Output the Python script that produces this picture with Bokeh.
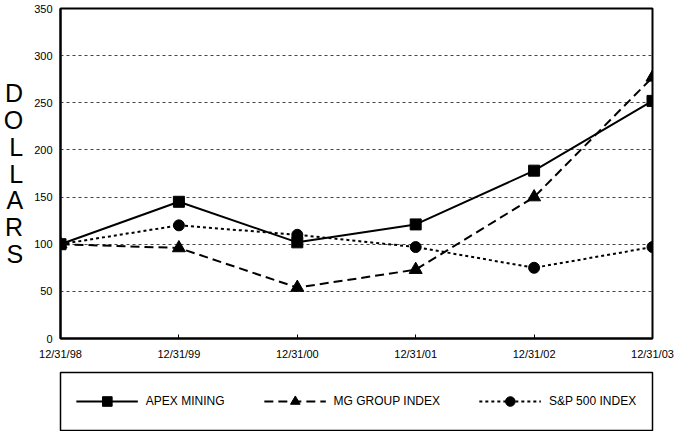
from bokeh.plotting import figure
from bokeh.layouts import column
from bokeh.models import Range1d, FixedTicker, Legend, LegendItem
from bokeh.embed import file_html
from bokeh.resources import INLINE

dates = ["12/31/98", "12/31/99", "12/31/00", "12/31/01", "12/31/02", "12/31/03"]
apex_mining = [100, 145, 102, 121, 178, 252]
mg_group_index = [100, 96, 54, 73, 150, 277]
sp500_index = [100, 120, 110, 97, 75, 97]
y_ticks = [0, 50, 100, 150, 200, 250, 300, 350]

xs = list(range(len(dates)))
FONT = "Liberation Sans"

STYLES = {
    "APEX MINING": dict(dash="solid", marker="square", size=11),
    "MG GROUP INDEX": dict(dash="9 5", marker="triangle", size=13),
    "S&P 500 INDEX": dict(dash="3 3", marker="circle", size=11),
}
SERIES = [("APEX MINING", apex_mining), ("MG GROUP INDEX", mg_group_index),
          ("S&P 500 INDEX", sp500_index)]

p = figure(width=677, height=370, output_backend="svg", toolbar_location=None,
           x_range=Range1d(0, len(dates) - 1), y_range=Range1d(0, 350),
           min_border_left=55, min_border_right=25, min_border_top=8,
           min_border_bottom=32)
p.background_fill_color = "white"
p.border_fill_color = "white"
p.outline_line_color = "black"
p.outline_line_width = 2

p.xgrid.grid_line_color = None
p.ygrid.grid_line_color = "#444444"
p.ygrid.grid_line_dash = "3 3"
p.ygrid.grid_line_width = 1

p.xaxis.ticker = FixedTicker(ticks=xs)
p.xaxis.major_label_overrides = {i: d for i, d in enumerate(dates)}
p.yaxis.ticker = FixedTicker(ticks=y_ticks)
for ax in (p.xaxis[0], p.yaxis[0]):
    ax.axis_line_color = "black"
    ax.axis_line_width = 2
    ax.minor_tick_line_color = None
    ax.major_label_text_font = FONT
    ax.major_label_text_font_size = "11px"
    ax.major_label_text_color = "black"
p.xaxis.major_tick_in = 4
p.xaxis.major_tick_out = 0
p.xaxis.major_tick_line_color = "black"
p.xaxis.major_label_standoff = 9
p.yaxis.major_tick_in = 0
p.yaxis.major_tick_out = 0
p.yaxis.major_label_standoff = 8
p.yaxis.axis_label = "D\nO\nL\nL\nA\nR\nS"
p.yaxis.axis_label_orientation = "horizontal"
p.yaxis.axis_label_text_font = FONT
p.yaxis.axis_label_text_font_size = "25px"
p.yaxis.axis_label_text_font_style = "normal"
p.yaxis.axis_label_text_color = "black"
p.yaxis.axis_label_text_line_height = 0.96
p.yaxis.axis_label_standoff = 8

for name, vals in SERIES:
    st = STYLES[name]
    p.line(xs, vals, line_color="black", line_width=2, line_dash=st["dash"])
    p.scatter(xs, vals, marker=st["marker"], size=st["size"],
              fill_color="black", line_color="black")

# legend panel (separate canvas below the chart); its renderers are hidden
q = figure(width=677, height=61, output_backend="svg", toolbar_location=None,
           x_axis_location=None, y_axis_location=None,
           x_range=Range1d(0, len(dates) - 1), y_range=Range1d(0, 350),
           min_border_left=55, min_border_right=21, min_border_top=2,
           min_border_bottom=1)
q.grid.grid_line_color = None
q.outline_line_color = "black"
q.outline_line_width = 1.5
q.background_fill_color = "white"
items = []
for name, vals in SERIES:
    st = STYLES[name]
    r1 = q.line(xs, vals, line_color="black", line_width=2, line_dash=st["dash"],
                visible=False)
    r2 = q.scatter(xs, vals, marker=st["marker"], size=st["size"],
                   fill_color="black", line_color="black", visible=False)
    items.append(LegendItem(label=name, renderers=[r1, r2]))
legend = Legend(items=items, orientation="horizontal", location="center",
                margin=0, padding=10, spacing=39, glyph_width=62,
                glyph_height=24, label_standoff=8,
                label_text_font=FONT, label_text_font_size="12px",
                label_text_color="black",
                border_line_color=None, background_fill_alpha=0.0,
                inactive_fill_alpha=0.0)
q.add_layout(legend, "center")

layout = column(p, q, spacing=0)
open("out.html", "w").write(file_html(layout, INLINE))
